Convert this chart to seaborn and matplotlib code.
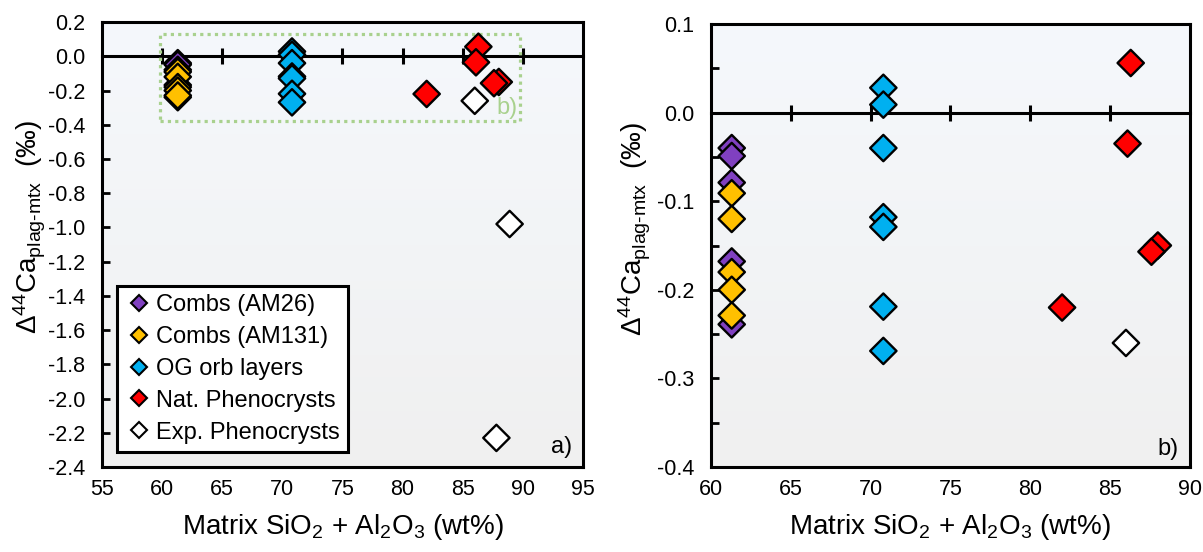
import numpy as np
import pandas as pd
import matplotlib
matplotlib.use("Agg")
import matplotlib.pyplot as plt
import seaborn as sns
from matplotlib.colors import LinearSegmentedColormap
from matplotlib.lines import Line2D
from matplotlib.patches import Rectangle
from matplotlib.ticker import MultipleLocator, FixedLocator, FuncFormatter

# ---- data: plagioclase-matrix Ca isotope fractionation vs matrix composition ----
groups = ["Combs (AM26)", "Combs (AM131)", "OG orb layers",
          "Nat. Phenocrysts", "Exp. Phenocrysts"]
group_colors = ["#8040C0", "#FFC000", "#00B0F0", "#FF0000", "#FFFFFF"]

am26_x = [61.3, 61.3, 61.3, 61.3, 61.3]
am26_y = [-0.040, -0.049, -0.079, -0.168, -0.239]

am131_x = [61.3, 61.3, 61.3, 61.3, 61.3]
am131_y = [-0.091, -0.120, -0.180, -0.200, -0.229]

og_x = [70.8, 70.8, 70.8, 70.8, 70.8, 70.8, 70.8]
og_y = [0.028, 0.009, -0.040, -0.118, -0.129, -0.219, -0.269]

nat_x = [86.3, 86.1, 88.0, 87.6, 82.0]
nat_y = [0.056, -0.035, -0.150, -0.157, -0.220]

exp_x = [86.0, 88.9, 87.8]
exp_y = [-0.260, -0.980, -2.230]

xticks_a = [55, 60, 65, 70, 75, 80, 85, 90, 95]
xticks_b = [60, 65, 70, 75, 80, 85, 90]
yticks_a = [0.2, 0.0, -0.2, -0.4, -0.6, -0.8, -1.0, -1.2, -1.4, -1.6,
            -1.8, -2.0, -2.2, -2.4]
yticks_b = [0.1, 0.0, -0.1, -0.2, -0.3, -0.4]

frames = []
for name, xs, ys in zip(groups, [am26_x, am131_x, og_x, nat_x, exp_x],
                        [am26_y, am131_y, og_y, nat_y, exp_y]):
    frames.append(pd.DataFrame({"group": name, "matrix": xs, "d44ca": ys}))
df = pd.concat(frames, ignore_index=True)
palette = dict(zip(groups, group_colors))

# ---- style ----
sns.set_theme(style="white")
plt.rcParams["font.family"] = ["Liberation Sans", "DejaVu Sans"]
plt.rcParams["mathtext.fontset"] = "custom"
plt.rcParams["mathtext.rm"] = "Liberation Sans"
plt.rcParams["mathtext.it"] = "Liberation Sans:italic"
plt.rcParams["mathtext.bf"] = "Liberation Sans:bold"
plt.rcParams["axes.unicode_minus"] = False
for key in ("text.color", "axes.labelcolor", "xtick.color", "ytick.color",
            "axes.edgecolor"):
    plt.rcParams[key] = "black"

TICK_FS = 15.5
LABEL_FS = 20
LEGEND_FS = 17
LETTER_FS = 17
SPINE_LW = 2.2

xlabel = r"Matrix SiO$_\mathregular{2}$ + Al$_\mathregular{2}$O$_\mathregular{3}$ (wt%)"
ylabel = (r"$\Delta^{\mathregular{44}}\mathregular{Ca}_{\mathregular{plag}\text{-}"
          r"\mathregular{mtx}}$  (‰)")

fig = plt.figure(figsize=(12.03, 5.52), dpi=100)
ax_a = fig.add_axes([0.0848, 0.154, 0.3998, 0.806])
ax_b = fig.add_axes([0.591, 0.154, 0.398, 0.8025])

bg_cmap = LinearSegmentedColormap.from_list("plotarea", ["#F0F0F0", "#F5F8FC"])
fmt = FuncFormatter(lambda v, p: "0.0" if abs(v) < 1e-9 else f"{v:.1f}")


def style_panel(ax, xlim, ylim, xticks, yticks, zero_ticks, minor_step=None):
    grad = np.linspace(0, 1, 256).reshape(-1, 1)
    ax.imshow(grad, cmap=bg_cmap, extent=(0, 1, 0, 1), transform=ax.transAxes,
              aspect="auto", origin="lower", zorder=-10)
    ax.set_xlim(*xlim)
    ax.set_ylim(*ylim)
    ax.xaxis.set_major_locator(FixedLocator(xticks))
    ax.yaxis.set_major_locator(FixedLocator(yticks))
    ax.yaxis.set_major_formatter(fmt)
    if minor_step:
        ax.yaxis.set_minor_locator(MultipleLocator(minor_step))
    ax.tick_params(axis="x", which="both", length=0, pad=9,
                   labelsize=TICK_FS)
    ax.tick_params(axis="y", which="both", direction="in", length=6, width=2,
                   left=True, right=False, pad=12, labelsize=TICK_FS)
    for sp in ax.spines.values():
        sp.set_linewidth(SPINE_LW)
        sp.set_color("black")
    ax.grid(False)
    # horizontal axis crossing at zero, with its own tick marks
    frac = (0 - ylim[0]) / (ylim[1] - ylim[0])
    sec = ax.secondary_xaxis(frac)
    sec.set_xticks(zero_ticks)
    sec.tick_params(axis="x", direction="inout", length=12, width=2.2,
                    labeltop=False, labelbottom=False)
    for sp in sec.spines.values():
        sp.set_linewidth(SPINE_LW)
        sp.set_color("black")
    sec.set_zorder(1)
    ax.set_xlabel(xlabel, fontsize=LABEL_FS, labelpad=8)
    ax.set_ylabel(ylabel, fontsize=LABEL_FS)


for ax in (ax_a, ax_b):
    sns.scatterplot(data=df, x="matrix", y="d44ca", hue="group",
                    hue_order=groups, palette=palette, marker="D", s=180,
                    edgecolor="black", linewidth=1.7, legend=False, ax=ax,
                    zorder=3)

style_panel(ax_a, (55, 95), (-2.4, 0.2), xticks_a, yticks_a,
            [60, 65, 70, 75, 80, 85, 90])
style_panel(ax_b, (60, 90), (-0.4, 0.1), xticks_b, yticks_b,
            [65, 70, 75, 80, 85], minor_step=0.05)

ax_a.yaxis.set_label_coords(-0.112, 0.54)
ax_b.yaxis.set_label_coords(-0.122, 0.537)

# zoom window of panel b drawn on panel a
ax_a.add_patch(Rectangle((59.8, -0.38), 30.0, 0.51, fill=False,
                         edgecolor="#A9D18E", linewidth=2.3,
                         linestyle=(0, (1, 1.3)), zorder=2))
ax_a.text(89.6, -0.30, "b)", color="#A9D18E", fontsize=LETTER_FS,
          ha="right", va="center", zorder=2)

ax_a.text(0.978, 0.02, "a)", transform=ax_a.transAxes, fontsize=LETTER_FS,
          ha="right", va="bottom")
ax_b.text(0.977, 0.016, "b)", transform=ax_b.transAxes, fontsize=LETTER_FS,
          ha="right", va="bottom")

handles = [Line2D([], [], ls="none", marker="D", markersize=8.5,
                  markerfacecolor=c, markeredgecolor="black",
                  markeredgewidth=1.5) for c in group_colors]
leg = ax_a.legend(handles, groups, loc="lower left",
                  bbox_to_anchor=(0.031, 0.034), borderaxespad=0,
                  fontsize=LEGEND_FS, frameon=True, fancybox=False,
                  framealpha=1, facecolor="white", edgecolor="black",
                  borderpad=0.35, handlelength=1.2, handletextpad=0.1,
                  labelspacing=0.42)
leg.get_frame().set_linewidth(SPINE_LW)
leg.set_zorder(5)

fig.savefig("out.png", dpi=100, facecolor="white")
